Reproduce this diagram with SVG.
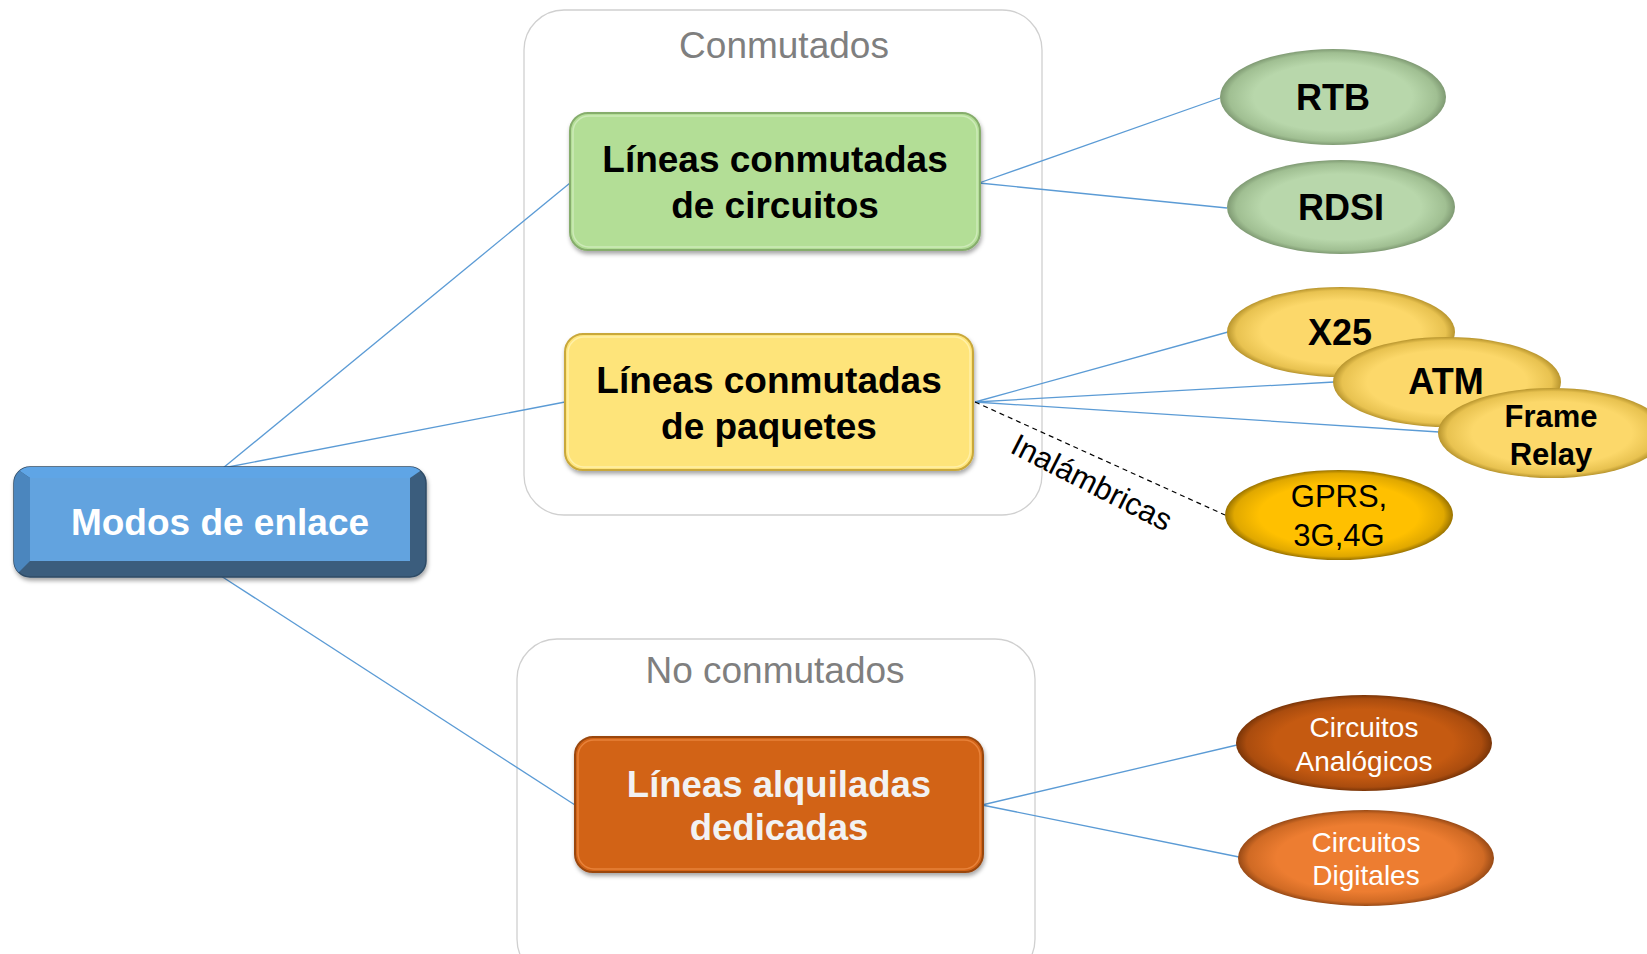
<svg xmlns="http://www.w3.org/2000/svg" width="1647" height="954" viewBox="0 0 1647 954">
<style>
.cont{fill:none;stroke:#d0d0d0;stroke-width:1.3}
.ctitle{font-family:"Liberation Sans",Arial,sans-serif;font-size:37px;fill:#7f7f7f;text-anchor:middle}
.bt{font-family:"Liberation Sans",Arial,sans-serif;font-weight:bold;text-anchor:middle}
.rt{font-family:"Liberation Sans",Arial,sans-serif;text-anchor:middle}
.conn{stroke:#5b9bd5;stroke-width:1.3;fill:none}
</style>
<defs>
<filter id="sh" x="-10%" y="-10%" width="120%" height="130%">
<feDropShadow dx="1" dy="3" stdDeviation="2" flood-color="#000" flood-opacity="0.35"/>
</filter>
<radialGradient id="gG" cx="50%" cy="50%" r="50%"><stop offset="0.7" stop-color="#b8d7ab"/><stop offset="0.92" stop-color="#a0bf92"/><stop offset="1" stop-color="#7f9a73"/></radialGradient>
<radialGradient id="gY" cx="50%" cy="50%" r="50%"><stop offset="0.7" stop-color="#fcd86a"/><stop offset="0.92" stop-color="#e8c250"/><stop offset="1" stop-color="#b8952e"/></radialGradient>
<radialGradient id="gO" cx="50%" cy="50%" r="50%"><stop offset="0.7" stop-color="#ffc000"/><stop offset="0.92" stop-color="#e0a800"/><stop offset="1" stop-color="#9a7300"/></radialGradient>
<radialGradient id="gA" cx="50%" cy="50%" r="50%"><stop offset="0.7" stop-color="#c55a11"/><stop offset="0.92" stop-color="#aa4c0e"/><stop offset="1" stop-color="#7a3508"/></radialGradient>
<radialGradient id="gD" cx="50%" cy="50%" r="50%"><stop offset="0.7" stop-color="#ed7d31"/><stop offset="0.92" stop-color="#d06a24"/><stop offset="1" stop-color="#984a16"/></radialGradient>
<clipPath id="mclip"><rect x="14" y="467" width="412" height="110" rx="16"/></clipPath>
</defs>
<rect width="1647" height="954" fill="#ffffff"/>

<g id="containers">
<rect class="cont" x="524" y="10" width="518" height="505" rx="40"/>
<text class="ctitle" x="784" y="58">Conmutados</text>
<rect class="cont" x="517" y="639" width="518" height="340" rx="40"/>
<text class="ctitle" x="775" y="683">No conmutados</text>
</g>

<g id="connectors">
<line class="conn" x1="223" y1="468" x2="570" y2="183"/>
<line class="conn" x1="223" y1="468" x2="565" y2="402"/>
<line class="conn" x1="221" y1="576" x2="575" y2="805"/>
<line class="conn" x1="979" y1="183" x2="1220" y2="98"/>
<line class="conn" x1="979" y1="183" x2="1227" y2="208"/>
<line class="conn" x1="975" y1="402" x2="1228" y2="332"/>
<line class="conn" x1="975" y1="402" x2="1334" y2="382"/>
<line class="conn" x1="975" y1="402" x2="1439" y2="432"/>
<line x1="975" y1="402" x2="1225" y2="515" stroke="#000" stroke-width="1.2" stroke-dasharray="5,4"/>
<text class="rt" font-size="31" fill="#000" transform="translate(1087,492) rotate(27)">Inalámbricas</text>
<line class="conn" x1="982" y1="805" x2="1237" y2="745"/>
<line class="conn" x1="982" y1="805" x2="1239" y2="857"/>
</g>

<g id="modos">
<g filter="url(#sh)">
<rect x="14" y="467" width="412" height="110" rx="16" fill="#3a5d7d" stroke="#2f4b66" stroke-width="1.5"/>
<g clip-path="url(#mclip)">
<polygon points="14,467 426,467 410,478 30,478" fill="#5fa5e6"/>
<polygon points="14,467 30,478 30,561 14,577" fill="#4c86be"/>
</g>
<rect x="30" y="478" width="380" height="83" fill="#62a3df"/>
</g>
<text class="bt" x="220" y="535" font-size="37" fill="#ffffff">Modos de enlace</text>
</g>

<g id="circuitos">
<rect x="570" y="113" width="410" height="137" rx="18" fill="#b3de96" stroke="#86ad6c" stroke-width="2" filter="url(#sh)"/>
<rect x="573" y="116" width="404" height="131" rx="16" fill="none" stroke="#cdeab8" stroke-width="1.5"/>
<text class="bt" x="775" y="172" font-size="37" fill="#000">Líneas conmutadas</text>
<text class="bt" x="775" y="218" font-size="37" fill="#000">de circuitos</text>
</g>

<g id="paquetes">
<rect x="565" y="334" width="408" height="136" rx="18" fill="#fee47a" stroke="#c9a83a" stroke-width="2" filter="url(#sh)"/>
<rect x="568" y="337" width="402" height="130" rx="16" fill="none" stroke="#fff0a8" stroke-width="1.5"/>
<text class="bt" x="769" y="393" font-size="37" fill="#000">Líneas conmutadas</text>
<text class="bt" x="769" y="439" font-size="37" fill="#000">de paquetes</text>
</g>

<g id="alquiladas">
<rect x="575" y="737" width="408" height="135" rx="18" fill="#d26316" stroke="#9a4710" stroke-width="2" filter="url(#sh)"/>
<rect x="578" y="740" width="402" height="129" rx="16" fill="none" stroke="#e8823a" stroke-width="1.5"/>
<text class="bt" x="779" y="797" font-size="36.5" fill="#f2f2f2">Líneas alquiladas</text>
<text class="bt" x="779" y="840" font-size="36.5" fill="#f2f2f2">dedicadas</text>
</g>

<g id="rtb">
<ellipse cx="1333" cy="97" rx="113" ry="48" fill="url(#gG)"/>
<text class="bt" x="1333" y="110" font-size="36" fill="#000">RTB</text>
</g>
<g id="rdsi">
<ellipse cx="1341" cy="207" rx="114" ry="47" fill="url(#gG)"/>
<text class="bt" x="1341" y="220" font-size="36" fill="#000">RDSI</text>
</g>
<g id="x25">
<ellipse cx="1341" cy="332" rx="114" ry="45" fill="url(#gY)"/>
<text class="bt" x="1340" y="345" font-size="36" fill="#000">X25</text>
</g>
<g id="atm">
<ellipse cx="1447" cy="382" rx="114" ry="45" fill="url(#gY)"/>
<text class="bt" x="1446" y="394" font-size="36" fill="#000">ATM</text>
</g>
<g id="framerelay">
<ellipse cx="1552" cy="433" rx="114" ry="45" fill="url(#gY)"/>
<text class="bt" x="1551" y="427" font-size="31" fill="#000">Frame</text>
<text class="bt" x="1551" y="465" font-size="31" fill="#000">Relay</text>
</g>
<g id="gprs">
<ellipse cx="1339" cy="515" rx="114" ry="45" fill="url(#gO)"/>
<text class="rt" x="1339" y="507" font-size="31" fill="#000">GPRS,</text>
<text class="rt" x="1339" y="546" font-size="31" fill="#000">3G,4G</text>
</g>
<g id="analogicos">
<ellipse cx="1364" cy="743" rx="128" ry="48" fill="url(#gA)"/>
<text class="rt" x="1364" y="737" font-size="28" fill="#ffffff">Circuitos</text>
<text class="rt" x="1364" y="771" font-size="28" fill="#ffffff">Analógicos</text>
</g>
<g id="digitales">
<ellipse cx="1366" cy="858" rx="128" ry="48" fill="url(#gD)"/>
<text class="rt" x="1366" y="852" font-size="28" fill="#ffffff">Circuitos</text>
<text class="rt" x="1366" y="885" font-size="28" fill="#ffffff">Digitales</text>
</g>
</svg>
